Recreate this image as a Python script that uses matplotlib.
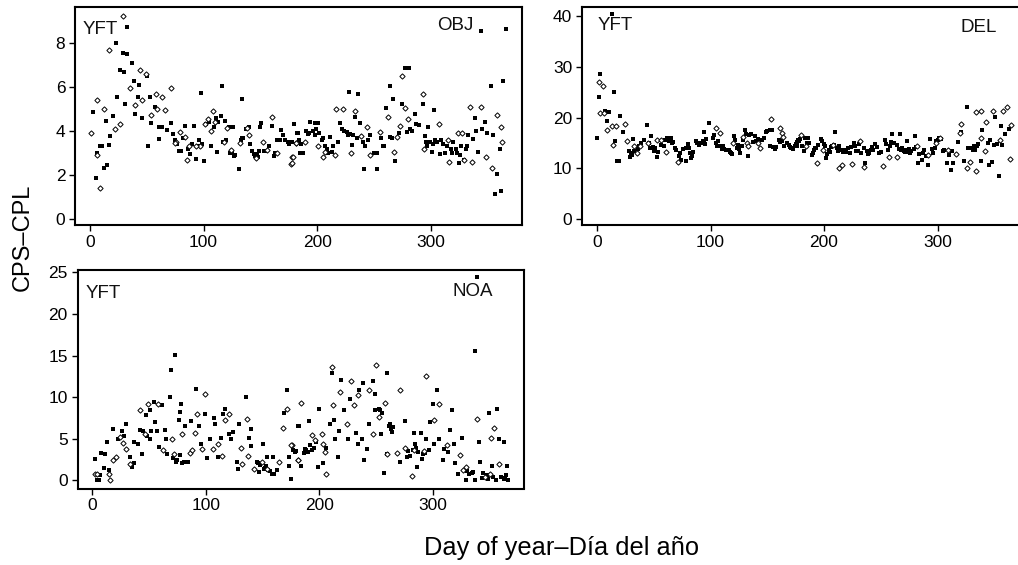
import matplotlib
matplotlib.use('Agg')
import matplotlib.pyplot as plt

plt.rcParams['font.family'] = ['Liberation Sans', 'DejaVu Sans']

W = 1018.
H = 565.

# OBJ panel
obj_sq_day = [3,5,6,9,11,14,15,12,17,18,20,23,24,26,29,30,31,33,33,37,39,40,42,43,46,50,51,54,53,57,61,61,63,68,71,73,75,78,84,88,92,93,98,100,96,107,112,116,119,115,126,122,125,131,134,134,140,144,147,150,151,160,162,168,165,174,176,180,183,185,
              182,188,192,194,198,198,201,205,211,213,220,228,226,231,236,233,238,241,247,253,253,258,264,267,261,264,269,275,277,281,279,286,290,293,295,298,303,301,308,313,319,325,332,329,337,342,344,339,348,353,357,362,358,361,364,366]
obj_sq_val = [4.88,1.85,3.0,3.3,3.33,4.45,2.45,2.3,3.35,3.77,4.7,8.0,5.55,6.8,7.55,6.7,5.25,8.75,7.5,7.08,6.3,4.77,5.53,6.1,4.58,6.5,3.3,4.35,5.55,5.1,3.65,4.17,4.2,4.07,4.35,3.85,3.6,3.1,4.25,2.95,4.25,2.75,5.75,2.65,3.6,3.33,3.05,6.05,4.47,4.7,4.17,4.17,3.05,2.27,5.47,3.67,4.2,2.95,2.95,4.17,4.35,4.25,2.86,4.07,3.6,3.5,3.5,4.3,3.9,3.0,
              3.9,3.0,3.85,4.42,3.82,4.35,4.35,3.67,3.74,3.06,4.38,5.76,3.97,3.36,5.67,4.65,4.35,2.27,3.82,2.27,3.0,3.3,6.06,5.45,5.07,3.74,2.65,5.25,6.85,6.85,3.97,4.77,4.27,5.25,3.77,4.17,4.95,3.06,2.95,3.0,3.0,2.53,3.3,2.68,3.62,3.03,8.56,4.58,4.42,6.06,1.14,1.27,2.05,3.17,6.27,8.67]
obj_band_day = [77,80,82,86,90,95,99,102,105,109,111,113,117,120,123,127,128,133,135,137,141,143,145,148,149,153,155,158,163,167,170,172,175,178,184,186,190,193,196,199,202,204,207,209,210,214,218,222,224,227,229,232,235,240,242,245,250,256,259,266,272,282,284,287,296,297,299,302,304,306,309,311,314,318,320,322,323,326,327,331,333,340,345,350,355]
obj_band_val = [3.4,3.1,3.7,3.2,3.4,3.3,3.4,4.3,4.4,4.2,4.6,4.4,3.5,3.6,3.0,2.85,2.9,3.6,3.7,4.1,3.4,3.1,2.85,2.8,3.1,3.1,3.1,3.3,3.0,3.6,3.8,3.6,3.4,3.5,3.6,3.4,4.0,3.9,4.0,4.1,3.9,3.6,3.3,3.2,3.0,3.3,3.5,4.1,4.0,3.8,3.85,3.8,3.7,3.5,3.3,3.6,3.0,3.7,3.3,3.7,3.9,4.1,4.0,4.3,3.5,3.3,3.5,3.4,3.6,3.5,3.6,3.4,3.3,3.2,3.5,3.2,3.0,2.9,3.3,3.2,3.8,4.0,4.1,3.9,3.8]
obj_di_day = [1,6,12,17,9,6,29,26,22,35,40,44,49,46,54,58,63,71,59,66,76,79,85,87,84,75,97,93,101,104,108,107,110,121,118,124,138,140,146,152,160,156,165,178,177,181,132,
              178,179,181,189,201,205,207,216,217,223,233,230,239,244,247,255,262,268,270,273,275,277,280,293,294,307,315,316,324,328,329,336,335,344,349,354,358,362,363]
obj_di_val = [3.9,5.4,5.0,7.7,1.4,2.9,9.24,4.3,4.1,5.94,5.2,6.8,6.6,5.4,4.73,5.7,5.55,5.94,5.0,4.95,3.5,3.97,2.7,3.3,3.74,3.44,3.3,3.3,4.3,4.57,4.9,4.0,4.42,4.12,3.5,3.14,4.12,3.82,2.76,3.5,4.62,3.14,3.0,2.83,2.5,3.44,3.44,
              2.53,2.83,3.44,3.5,3.3,2.83,3.06,2.9,5.0,5.0,4.9,3.0,3.77,4.2,2.9,3.97,4.65,3.06,3.74,4.23,6.5,5.03,4.53,5.7,3.18,4.3,3.6,2.6,3.92,3.92,2.7,2.6,5.1,5.1,2.83,2.3,4.73,4.2,3.5]

# DEL panel
del_sq_day = [0,2,3,13,15,7,11,9,20,23,18,19,16,28,29,32,37,44,41,48,47,50,53,54,59,62,65,66,69,73,74,78,80,78,83,85,87,91,94,95,94,99,102,105,108,111,116,118,121,123,126,133,130,129,136,139,145,149,154,152,157,160,163,167,172,176,178,
              171,174,177,182,186,189,192,198,202,204,210,207,213,218,223,227,230,236,240,243,248,254,258,260,267,264,270,273,276,280,283,286,292,293,287,296,299,308,314,312,318,305,321,326,323,327,331,335,338,339,346,345,348,350,351,354,356,357,359,363]
del_sq_val = [15.9,24.1,28.6,40.4,25.0,21.2,21.0,19.4,20.3,17.2,11.5,11.5,15.3,13.3,12.3,15.8,14.3,18.6,15.6,16.4,14.0,13.3,12.2,13.1,14.3,15.9,15.9,14.9,14.0,13.0,11.6,11.5,14.8,14.0,12.0,13.1,15.3,14.9,14.9,14.8,17.1,18.9,15.9,14.9,14.3,14.3,13.6,13.0,16.4,14.0,13.0,12.4,17.6,15.6,16.7,16.4,15.6,17.2,17.6,14.3,13.8,15.6,15.3,14.9,13.9,14.3,15.3,
              14.0,14.3,15.6,13.3,15.9,12.6,14.0,15.3,12.0,13.6,17.1,14.3,14.3,13.6,13.0,14.3,13.3,11.0,13.0,13.6,13.0,15.6,14.3,16.7,16.7,14.6,13.3,15.4,13.0,16.4,11.0,11.6,10.7,15.8,13.0,13.0,15.3,11.1,11.1,9.7,15.1,13.3,17.2,22.0,11.5,13.9,13.6,14.3,11.5,17.6,15.5,10.7,11.3,14.5,20.1,8.5,18.4,14.5,16.8,17.7]
del_band_day = [30,31,33,36,39,46,49,51,56,60,63,67,70,72,76,79,81,82,84,88,90,92,93,96,103,106,107,110,112,114,117,119,122,124,125,128,131,134,137,140,142,147,150,152,155,158,161,165,169,170,173,175,176,179,181,183,185,187,190,191,193,195,197,200,201,203,205,206,209,211,212,215,217,219,221,224,226,228,231,233,235,238,239,241,242,245,247,250,255,256,259,262,266,268,269,271,272,274,275,277,279,281,284,288,290,295,298,300,301,303,306,310,313,328,329,332,333,336,344,352]
del_band_val = [13,12.6,13.4,13.8,15,15,14.2,13.9,14.6,15.5,15.4,15.2,13.6,12.5,13.7,13.9,14,13,12.4,15,14.6,15,15.4,15.8,16.5,14.4,15.4,13.8,13.7,13.5,13.2,12.9,15.6,14.5,13.7,14.4,16.8,16.6,15.2,15.3,15.8,16,17.4,17.5,14.1,14.1,15.1,14.4,14.5,14.2,13.8,14.8,15.2,15.7,14.4,15.9,15,14.9,13,13.5,13.9,14.5,15.7,14.7,14.3,12.9,13.2,14.2,14.6,14,13.4,13.6,13.1,13.2,13.9,14.1,15,13.4,14.8,13,13.9,13.4,12.9,13.5,14.2,14.7,14.1,13.2,14.7,13.5,15.1,14.9,13.8,13.5,13.9,13.2,13.6,13.1,13.7,13.4,13.8,14.2,12.9,13.5,12.4,13.7,14,15.5,16,15.8,13.5,12.6,13.3,14,13.9,14.3,13.5,14.8,14.9,14.7]
del_di_day = [2,5,3,6,9,13,17,25,14,26,35,33,38,45,53,56,61,71,105,108,120,129,132,133,144,142,153,161,163,164,
              180,184,194,199,208,213,216,225,232,235,252,257,264,282,292,302,299,309,316,321,320,326,329,334,338,334,343,342,349,355,358,361,365,364,338]
del_di_val = [27.1,26.3,20.9,20.9,17.6,18.4,18.4,18.8,14.5,15.3,13.0,14.3,14.3,14.9,15.6,15.6,13.1,11.3,17.9,16.9,14.9,16.2,14.9,14.3,13.9,14.9,19.7,17.9,16.9,16.1,
              16.6,14.3,11.0,13.6,14.6,10.0,10.7,10.9,15.3,10.3,10.5,12.3,12.3,14.3,12.6,15.9,14.9,13.6,12.8,18.8,16.9,10.0,11.3,9.5,21.2,21.0,19.2,13.4,21.3,15.6,21.3,22.0,18.6,11.8,15.9]

# NOA panel
noa_sq_day = [2,4,7,6,10,8,11,15,13,18,23,26,30,35,33,37,37,40,42,44,47,51,51,54,55,57,59,64,61,65,68,69,73,76,74,77,78,77,82,84,87,91,94,96,99,101,104,107,108,111,113,115,117,120,122,124,127,128,129,135,138,140,140,145,147,150,151,154,158,159,163,169,171,173,173,175,177,179,181,
              175,178,182,184,187,191,193,200,199,203,206,209,211,213,214,216,217,219,222,225,227,232,234,235,238,239,242,244,247,249,249,253,254,257,259,259,261,265,264,271,275,277,283,286,289,290,296,294,297,300,303,301,305,309,315,317,318,319,325,322,329,334,337,339,337,340,341,349,352,356,358,362,365,362,355,366]
noa_sq_val = [2.5,0,0.6,0,1.5,3.3,3.1,1.2,4.6,6.2,5.0,5.9,6.8,1.6,2.8,2.1,4.6,4.4,6.0,3.2,7.8,8.4,5.0,9.4,7.0,5.9,4.0,6.0,9.0,5.0,10.0,13.3,15.1,7.3,2.2,3.0,9.2,8.2,6.5,2.2,7.1,11.0,6.5,4.4,8.0,2.7,4.9,7.5,6.8,2.8,5.1,8.0,8.6,5.6,4.9,5.8,2.2,1.4,6.8,10.0,5.1,4.1,6.2,2.2,1.0,4.3,1.4,2.8,0.8,2.8,1.2,8.1,10.8,2.8,1.7,0.1,3.6,3.5,6.5,
              0.1,3.4,6.5,1.7,3.8,7.1,3.6,8.6,1.6,2.1,3.9,6.8,12.9,7.3,4.9,2.8,5.9,12.1,8.4,4.9,9.8,5.7,4.4,10.9,11.7,2.4,3.8,6.8,11.9,10.4,8.4,8.4,5.5,0.9,12.9,3.2,6.5,6.4,5.8,2.2,7.1,2.8,5.7,1.6,5.7,2.5,3.6,4.9,7.0,9.2,10.8,4.4,4.9,2.4,6.0,8.4,4.4,2.1,5.1,0.8,0,0.9,0,24.4,15.5,4.6,2.2,8.1,1.7,8.6,4.9,4.6,1.7,0.2,0,0]
noa_band_day = [146,148,152,153,155,156,160,28,45,48,52,66,71,75,79,81,186,188,190,192,195,197,237,252,255,262,263,278,280,282,284,285,287,291,293,310,313,330,332,335,343,344,347,348,353,360,363,364]
noa_band_val = [2.1,1.8,1.5,1.7,1.2,1.1,0.8,5.3,5.9,5.3,5.9,3.1,2.7,2.4,2.1,2.2,3.3,3.6,3.4,4.2,3.9,4.6,5,8.6,8.1,6.8,6.2,3.5,2.9,3.6,4.4,3.9,3.4,3.1,3.3,3.8,3.4,1.1,0.7,1.0,0.3,0.9,0.6,0.2,0.4,0.4,0.3,0.6]
noa_di_day = [2,4,15,16,18,21,24,27,30,33,42,49,58,46,62,70,72,79,86,90,92,88,97,99,106,111,114,117,120,131,132,136,137,142,149,154,164,168,171,176,181,
              175,181,184,193,196,202,203,205,206,211,212,218,224,228,230,234,244,247,250,258,252,259,268,271,275,281,283,292,294,301,305,312,324,329,326,339,346,350,354,351,358]
noa_di_val = [0.8,0.8,0.8,0,2.4,2.8,5.2,4.5,3.7,1.9,8.5,9.2,9.2,5.6,3.6,5.0,3.2,5.6,3.3,5.7,8.0,3.6,3.7,10.4,3.7,4.3,2.9,7.2,8.0,3.9,1.9,7.4,2.9,1.3,2.2,1.4,2.2,6.3,8.6,4.2,2.4,
              4.2,2.4,9.3,5.4,4.8,5.6,4.3,3.4,0.8,13.6,9.0,10.6,6.8,11.9,9.0,10.2,10.8,5.5,13.9,9.3,7.6,3.2,3.3,10.8,3.9,0.5,3.6,3.5,12.5,7.3,9.2,4.2,3.0,1.6,1.2,7.4,0.4,0.8,6.3,5.1,1.9]

x_ticks = [0, 100, 200, 300]


def panel(left, right, top, bottom, xlim, ylim, yticks, sq_day, sq_val, di_day, di_val):
    ax = fig.add_axes([left/W, 1-bottom/H, (right-left)/W, (bottom-top)/H])
    ax.plot(sq_day, sq_val, 's', color='black', ms=3.0, mew=0, clip_on=False)
    ax.plot(di_day, di_val, 'D', mfc='white', mec='black', ms=2.7, mew=0.7, clip_on=False)
    ax.set_xlim(xlim)
    ax.set_ylim(ylim)
    ax.set_xticks(x_ticks)
    ax.set_yticks(yticks)
    ax.tick_params(labelsize=12.5, length=4, width=1, pad=3)
    for s in ax.spines.values():
        s.set_linewidth(1.5)
    return ax


fig = plt.figure(figsize=(W/100, H/100), dpi=100)

panel(75, 521.5, 7, 225.5, (-13.2, 380), (-0.3, 9.65), [0, 2, 4, 6, 8],
      obj_sq_day + obj_band_day, obj_sq_val + obj_band_val, obj_di_day, obj_di_val)
panel(582, 1021, 7, 225.5, (-13.2, 373.5), (-1.3, 41.8), [0, 10, 20, 30, 40],
      del_sq_day + del_band_day, del_sq_val + del_band_val, del_di_day, del_di_val)
panel(77.5, 524, 270, 488.5, (-13, 380), (-1.0, 25.3), [0, 5, 10, 15, 20, 25],
      noa_sq_day + noa_band_day, noa_sq_val + noa_band_val, noa_di_day, noa_di_val)

labels = [('YFT', 83, 29), ('OBJ', 437, 25), ('YFT', 598, 26), ('DEL', 960, 28), ('YFT', 86, 293), ('NOA', 453, 291)]
for txt, x, y in labels:
    fig.text(x/W, 1-y/H, txt, fontsize=13.5, ha='left', va='center', color='#111111')

fig.text(23/W, 1-237/H, 'CPS\u2013CPL', fontsize=17, rotation=90, ha='center', va='center')
fig.text(562/W, 1-548/H, 'Day of year\u2013D\u00eda del a\u00f1o', fontsize=18.3, ha='center', va='center')

plt.savefig('out.png', dpi=100)
